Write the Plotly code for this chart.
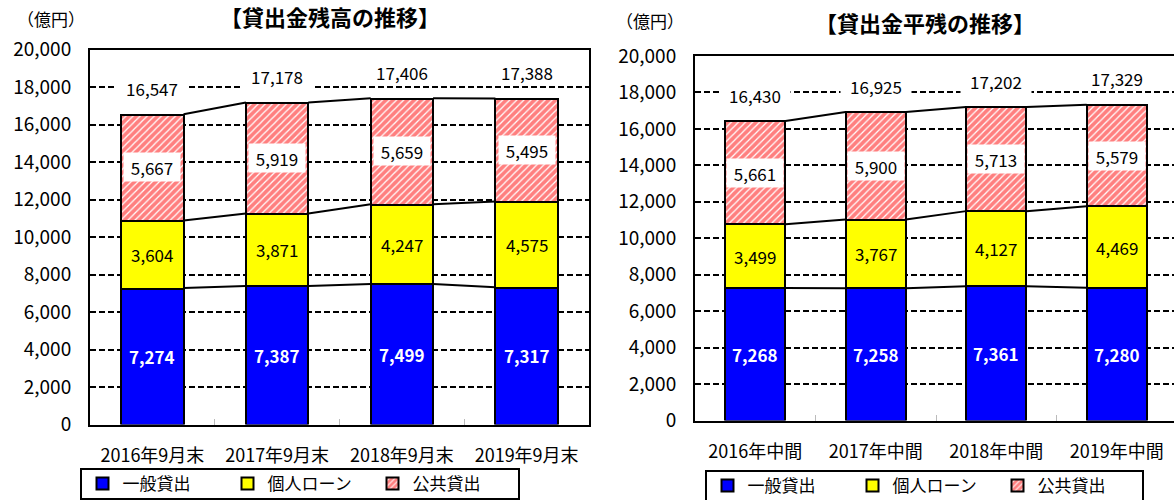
import numpy as np
import plotly.graph_objects as go

# ---------------- data ----------------
periods_end = ["2016年9月末", "2017年9月末", "2018年9月末", "2019年9月末"]
periods_mid = ["2016年中間", "2017年中間", "2018年中間", "2019年中間"]
series_names = ["一般貸出", "個人ローン", "公共貸出"]

balance_general = [7274, 7387, 7499, 7317]
balance_personal = [3604, 3871, 4247, 4575]
balance_public = [5667, 5919, 5659, 5495]
balance_total = [16547, 17178, 17406, 17388]

average_general = [7268, 7258, 7361, 7280]
average_personal = [3499, 3767, 4127, 4469]
average_public = [5661, 5900, 5713, 5579]
average_total = [16430, 16925, 17202, 17329]

y_ticks = list(range(0, 20001, 2000))

title_left = "【貸出金残高の推移】"
title_right = "【貸出金平残の推移】"
unit_label = "（億円）"

# ---------------- style ----------------
FONT = "Noto Sans CJK JP"
BW = 0.5
W, H = 1174, 500


def px(x):
    return x / W


def py(y):
    return 1 - y / H


fig = go.Figure()
annotations = []


def add_panel(xa, ya, legend, cats, general, personal, public, total, yshift):
    xs = list(range(len(cats)))
    g = np.array(general)
    p = np.array(personal)
    q = np.array(public)
    specs = [
        (series_names[0], g, dict(color="#0000FF", line=dict(color="black", width=2))),
        (series_names[1], p, dict(color="#FFFF00", line=dict(color="black", width=2))),
        (series_names[2], q, dict(color="#FF0000", line=dict(color="black", width=2),
                                  pattern=dict(shape="/", fgcolor="#FF0000", bgcolor="white",
                                               size=5, solidity=0.75))),
    ]
    for name, vals, marker in specs:
        fig.add_trace(go.Bar(x=xs, y=vals, width=BW, name=name, marker=marker,
                             xaxis=xa, yaxis=ya, legend=legend, hoverinfo="skip"))
    # series lines between bars
    levels = [g, g + p, g + p + q]
    for lv in levels:
        lx, ly = [], []
        for i in range(len(xs) - 1):
            lx += [xs[i] + BW / 2, xs[i + 1] - BW / 2, None]
            ly += [lv[i], lv[i + 1], None]
        fig.add_trace(go.Scatter(x=lx, y=ly, mode="lines", line=dict(color="black", width=2),
                                 xaxis=xa, yaxis=ya, showlegend=False, hoverinfo="skip"))
    for i in xs:
        annotations.append(dict(x=i, y=g[i] / 2, xref=xa, yref=ya, text=f"{g[i]:,}",
                                showarrow=False, font=dict(family=FONT, size=17, color="white", weight="bold")))
        annotations.append(dict(x=i, y=g[i] + p[i] / 2, xref=xa, yref=ya, text=f"{p[i]:,}",
                                showarrow=False, font=dict(family=FONT, size=17, color="black")))
        annotations.append(dict(x=i, y=g[i] + p[i] + q[i] / 2, xref=xa, yref=ya, text=f"{q[i]:,}",
                                showarrow=False, bgcolor="white", width=56, height=28, borderpad=0,
                                font=dict(family=FONT, size=17, color="black")))
        annotations.append(dict(x=i, y=g[i] + p[i] + q[i], xref=xa, yref=ya, text=f"{total[i]:,}",
                                showarrow=False, bgcolor="white", width=70, height=23, borderpad=0,
                                yshift=yshift, font=dict(family=FONT, size=17, color="black")))


add_panel("x", "y", "legend", periods_end, balance_general, balance_personal,
          balance_public, balance_total, 26)
add_panel("x2", "y2", "legend2", periods_mid, average_general, average_personal,
          average_public, average_total, 26)

# titles / units
annotations += [
    dict(x=px(330), y=py(16), xref="paper", yref="paper", text=title_left, showarrow=False,
         xanchor="center", yanchor="middle",
         font=dict(family=FONT, size=22, color="black", weight="bold")),
    dict(x=px(51), y=py(18), xref="paper", yref="paper", text=unit_label, showarrow=False,
         xanchor="center", yanchor="middle",
         font=dict(family=FONT, size=17, color="black")),
    dict(x=px(925), y=py(22), xref="paper", yref="paper", text=title_right, showarrow=False,
         xanchor="center", yanchor="middle",
         font=dict(family=FONT, size=22, color="black", weight="bold")),
    dict(x=px(650), y=py(20), xref="paper", yref="paper", text=unit_label, showarrow=False,
         xanchor="center", yanchor="middle",
         font=dict(family=FONT, size=17, color="black")),
]

# legend frames
shapes = [
    dict(type="rect", xref="paper", yref="paper", x0=px(81), x1=px(519), y0=py(499), y1=py(469),
         line=dict(color="black", width=2), fillcolor="rgba(0,0,0,0)"),
    dict(type="rect", xref="paper", yref="paper", x0=px(706), x1=px(1143), y0=py(501), y1=py(471),
         line=dict(color="black", width=2), fillcolor="rgba(0,0,0,0)"),
]

common_x = dict(showline=True, linecolor="black", linewidth=2, showgrid=False, zeroline=False,
                ticks="", tickmode="array", tickvals=list(range(4)), ticklabelstandoff=14,
                tickfont=dict(family=FONT, size=18, color="black"),
                minor=dict(tickmode="array", tickvals=[0.5, 1.5, 2.5], ticks="inside", ticklen=6,
                           tickcolor="#bbbbbb", tickwidth=1, showgrid=False))
common_y = dict(range=[0, 20000], tickmode="array", tickvals=y_ticks, tickformat=",",
                showgrid=True, gridcolor="black", griddash="6px,3px", gridwidth=1.5,
                showline=True, linecolor="black", linewidth=2, zeroline=False, ticks="",
                ticklabelstandoff=13, tickfont=dict(family=FONT, size=19, color="black"))

fig.update_layout(
    width=W, height=H, barmode="stack", bargap=0,
    margin=dict(l=0, r=0, t=0, b=0, pad=0, autoexpand=False),
    paper_bgcolor="white", plot_bgcolor="white",
    xaxis=dict(domain=[px(90), px(589)], anchor="y", range=[-0.5, 3.5], ticktext=periods_end,
               mirror=True, **common_x),
    yaxis=dict(domain=[py(424.5), py(49.5)], anchor="x", mirror=True, **common_y),
    xaxis2=dict(domain=[px(695), 1.0], anchor="y2", range=[-0.5, -0.5 + (1174 - 695) / 120.5],
                ticktext=periods_mid, mirror=True, **common_x),
    yaxis2=dict(domain=[py(420.5), py(56)], anchor="x2", mirror=False, **common_y),
    legend=dict(orientation="h", x=px(300), y=py(484), xanchor="center", yanchor="middle",
                bgcolor="rgba(0,0,0,0)", borderwidth=0, traceorder="normal",
                font=dict(family=FONT, size=17, color="black"), itemwidth=30, entrywidth=100),
    legend2=dict(orientation="h", x=px(925), y=py(486), xanchor="center", yanchor="middle",
                 bgcolor="rgba(0,0,0,0)", borderwidth=0, traceorder="normal",
                 font=dict(family=FONT, size=17, color="black"), itemwidth=30, entrywidth=100),
    annotations=annotations,
    shapes=shapes,
    font=dict(family=FONT, color="black"),
)

fig.write_html("out.html", config={"displayModeBar": False},
               post_script="document.body.style.margin='0px';document.body.style.overflow='hidden';")
